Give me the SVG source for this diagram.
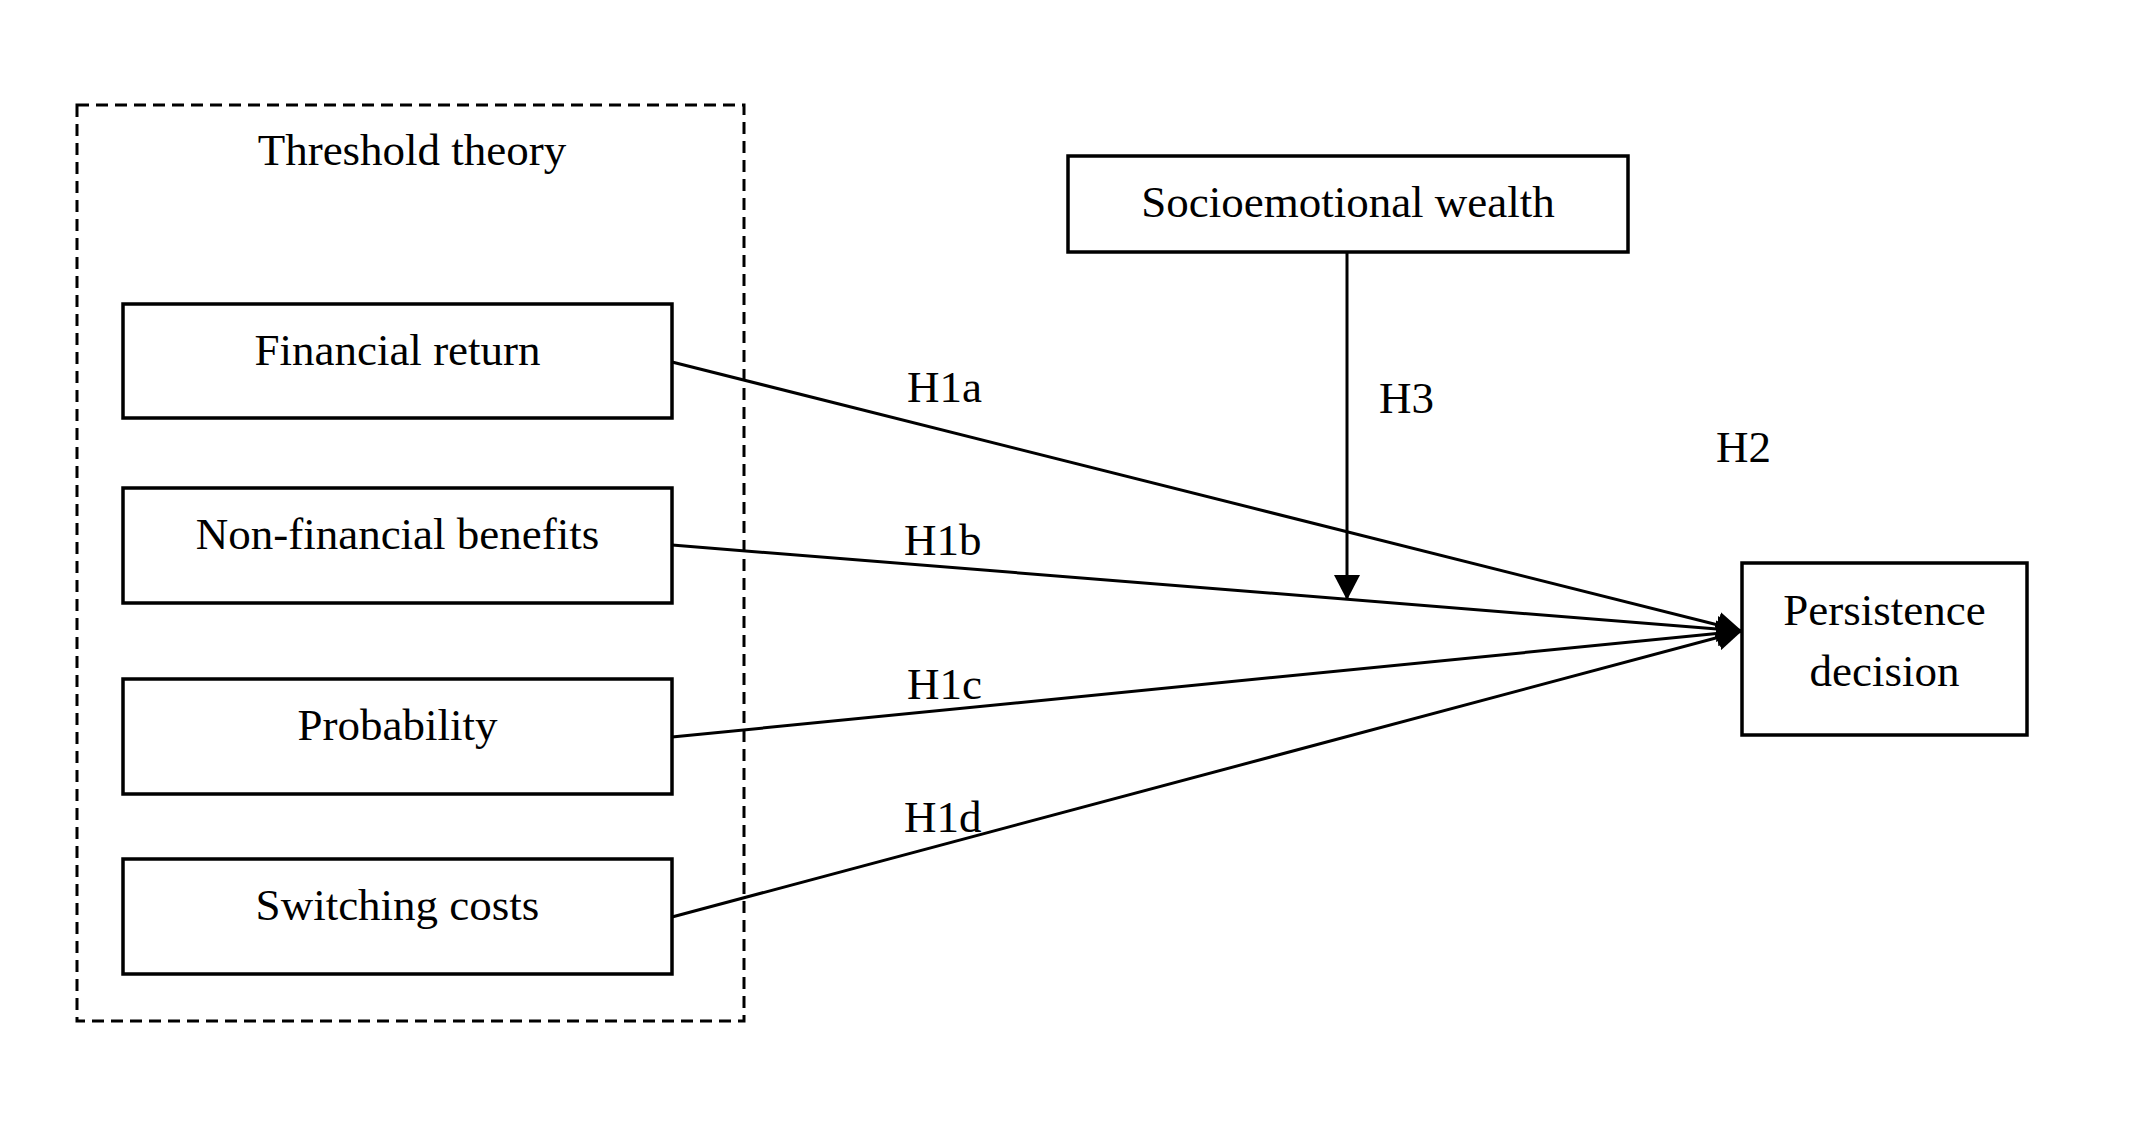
<svg xmlns="http://www.w3.org/2000/svg" width="2145" height="1130" viewBox="0 0 2145 1130">
<style>
text{font-family:"Liberation Serif","Times New Roman",serif;font-size:45px;fill:#000}
.c{text-anchor:middle}
.box{fill:#fff;stroke:#000;stroke-width:3.5}
.edge{stroke:#000;stroke-width:3;fill:none}
</style>
<defs>
<marker id="ah" markerUnits="userSpaceOnUse" markerWidth="26" markerHeight="26" refX="25" refY="13" orient="auto" viewBox="0 0 26 26">
<path d="M0,0 L25,13 L0,26 z" fill="#000"/>
</marker>
</defs>
<rect width="2145" height="1130" fill="#fff"/>
<g id="threshold-theory">
<rect x="77" y="105" width="667" height="916" fill="none" stroke="#000" stroke-width="3" stroke-dasharray="12 7"/>
<text class="c" x="412" y="165">Threshold theory</text>
</g>
<g id="financial-return">
<rect class="box" x="123" y="304" width="549" height="114"/>
<text class="c" x="397.5" y="365">Financial return</text>
</g>
<g id="non-financial-benefits">
<rect class="box" x="123" y="488" width="549" height="115"/>
<text class="c" x="397.5" y="549">Non-financial benefits</text>
</g>
<g id="probability">
<rect class="box" x="123" y="679" width="549" height="115"/>
<text class="c" x="397.5" y="740">Probability</text>
</g>
<g id="switching-costs">
<rect class="box" x="123" y="859" width="549" height="115"/>
<text class="c" x="397.5" y="920">Switching costs</text>
</g>
<g id="socioemotional-wealth">
<rect class="box" x="1068" y="156" width="560" height="96"/>
<text class="c" x="1348" y="217">Socioemotional wealth</text>
</g>
<g id="persistence-decision">
<rect class="box" x="1742" y="563" width="285" height="172"/>
<text class="c" x="1884.5" y="625">Persistence</text>
<text class="c" x="1884.5" y="686">decision</text>
</g>
<g id="connectors">
<line class="edge" x1="672" y1="362" x2="1742" y2="631" marker-end="url(#ah)"/>
<line class="edge" x1="672" y1="545" x2="1742" y2="631" marker-end="url(#ah)"/>
<line class="edge" x1="672" y1="737" x2="1742" y2="631" marker-end="url(#ah)"/>
<line class="edge" x1="672" y1="917" x2="1742" y2="631" marker-end="url(#ah)"/>
<line class="edge" x1="1347" y1="252" x2="1347" y2="600" marker-end="url(#ah)"/>
<text x="907" y="402">H1a</text>
<text x="904" y="555">H1b</text>
<text x="907" y="699">H1c</text>
<text x="904" y="832">H1d</text>
<text x="1379" y="413">H3</text>
<text x="1716" y="462">H2</text>
</g>
</svg>
